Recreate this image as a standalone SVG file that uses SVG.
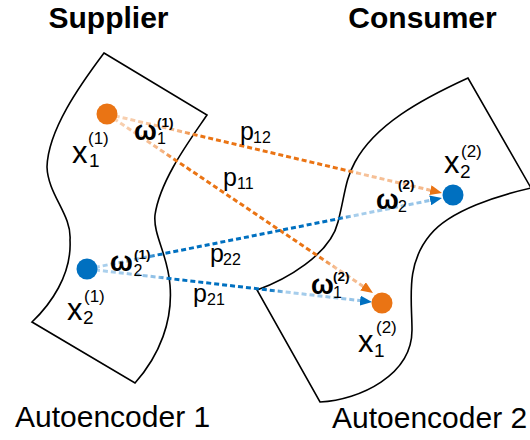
<svg xmlns="http://www.w3.org/2000/svg" width="530" height="440" viewBox="0 0 530 440">
<style>
text{font-family:"Liberation Sans",Arial,sans-serif;fill:#000}
.title{font-size:30px;font-weight:bold;text-anchor:middle}
.cap{font-size:30px}
.x{font-size:31px}
.xs{font-size:19px}
.xp{font-size:17px}
.w{font-size:27px;font-weight:bold}
.ws{font-size:16px}
.wp{font-size:13.5px;font-weight:bold}
.p{font-size:25px}
.ps{font-size:16px}
.space{fill:none;stroke:#000;stroke-width:1.6;stroke-linejoin:miter}
.conn{fill:none;stroke-width:3;stroke-dasharray:5 3}
.or{fill:#EA7414}
.bl{fill:#0070C0}
</style>
<defs>
<marker id="ahO" markerUnits="userSpaceOnUse" markerWidth="12" markerHeight="10" refX="2" refY="5" orient="auto"><path d="M0,0 L12,5 L0,10 Z" fill="#EA7414"/></marker>
<marker id="ahB" markerUnits="userSpaceOnUse" markerWidth="12" markerHeight="10" refX="2" refY="5" orient="auto"><path d="M0,0 L12,5 L0,10 Z" fill="#0070C0"/></marker>
<linearGradient id="gP12" gradientUnits="userSpaceOnUse" x1="107" y1="114" x2="442" y2="193">
<stop offset="0" stop-color="#F9D8BD"/><stop offset="0.22" stop-color="#F4B585"/><stop offset="0.27" stop-color="#EA7414"/><stop offset="0.72" stop-color="#EA7414"/><stop offset="0.75" stop-color="#F6C29A"/><stop offset="1" stop-color="#F4B585"/>
</linearGradient>
<linearGradient id="gP11" gradientUnits="userSpaceOnUse" x1="107" y1="114" x2="373" y2="293">
<stop offset="0" stop-color="#F9D8BD"/><stop offset="0.21" stop-color="#F4B585"/><stop offset="0.26" stop-color="#EA7414"/><stop offset="0.8" stop-color="#EA7414"/><stop offset="0.86" stop-color="#F6C29A"/><stop offset="1" stop-color="#F4B585"/>
</linearGradient>
<linearGradient id="gP22" gradientUnits="userSpaceOnUse" x1="87" y1="269" x2="442" y2="198">
<stop offset="0" stop-color="#B5D6EF"/><stop offset="0.16" stop-color="#8FC0E6"/><stop offset="0.2" stop-color="#0070C0"/><stop offset="0.71" stop-color="#0070C0"/><stop offset="0.75" stop-color="#A9CFEC"/><stop offset="1" stop-color="#8FC0E6"/>
</linearGradient>
<linearGradient id="gP21" gradientUnits="userSpaceOnUse" x1="87" y1="269" x2="372" y2="302">
<stop offset="0" stop-color="#B5D6EF"/><stop offset="0.25" stop-color="#8FC0E6"/><stop offset="0.29" stop-color="#0070C0"/><stop offset="0.64" stop-color="#0070C0"/><stop offset="0.7" stop-color="#A9CFEC"/><stop offset="1" stop-color="#8FC0E6"/>
</linearGradient>
</defs>

<rect width="530" height="440" fill="#fff"/>

<g id="supplier">
<path class="space" d="M104,53 L207,115 C190,140 160,180 155,215 C153,235 168,255 170,285 C173,320 160,355 135,383 L32,322 C50,305 72,275 70,240 C72,215 48,195 47,167 C48,130 80,85 104,53 Z"/>
<text class="title" x="108.5" y="28">Supplier</text>
<text class="cap" x="15" y="427">Autoencoder 1</text>
</g>

<g id="consumer">
<path class="space" d="M257,290 C285,280 330,255 338,222 C345,195 345,180 355,162 C375,125 420,100 468,78 L531,188 C500,195 450,210 430,235 C405,265 412,300 412,330 C412,375 360,400 320,402 Z"/>
<text class="title" x="422.5" y="28">Consumer</text>
<text class="cap" x="332" y="428">Autoencoder 2</text>
</g>

<g id="connectors">
<line class="conn" x1="107" y1="114" x2="432.3" y2="190.7" stroke="url(#gP12)" marker-end="url(#ahO)"/>
<line class="conn" x1="107" y1="114" x2="364.7" y2="287.4" stroke="url(#gP11)" marker-end="url(#ahO)"/>
<line class="conn" x1="87" y1="269" x2="432.2" y2="200" stroke="url(#gP22)" marker-end="url(#ahB)"/>
<line class="conn" x1="87" y1="269" x2="362.1" y2="300.85" stroke="url(#gP21)" marker-end="url(#ahB)"/>
<text class="p" x="240" y="140">p</text><text class="ps" x="253" y="143">12</text>
<text class="p" x="223" y="186">p</text><text class="ps" x="237" y="189">11</text>
<text class="p" x="210" y="262">p</text><text class="ps" x="223" y="265">22</text>
<text class="p" x="193" y="302">p</text><text class="ps" x="207" y="305">21</text>
</g>

<g id="node-x1-1">
<circle class="or" cx="107" cy="114" r="10.5"/>
<text class="x" x="72" y="163">x</text><text class="xs" x="89" y="167">1</text><text class="xp" x="88" y="144">(1)</text>
<text class="w" x="134" y="140">ω</text><text class="ws" x="157" y="144">1</text><text class="wp" x="157" y="127">(1)</text>
</g>

<g id="node-x2-1">
<circle class="bl" cx="87" cy="269" r="10.5"/>
<text class="x" x="67" y="320">x</text><text class="xs" x="83" y="324">2</text><text class="xp" x="84" y="302">(1)</text>
<text class="w" x="110" y="271">ω</text><text class="ws" x="133.5" y="276">2</text><text class="wp" x="134" y="259">(1)</text>
</g>

<g id="node-x2-2">
<circle class="bl" cx="453" cy="195" r="10.5"/>
<text class="x" x="444" y="173">x</text><text class="xs" x="460" y="178">2</text><text class="xp" x="461" y="157">(2)</text>
<text class="w" x="376" y="209">ω</text><text class="ws" x="398" y="212">2</text><text class="wp" x="398" y="189">(2)</text>
</g>

<g id="node-x1-2">
<circle class="or" cx="382" cy="303" r="10.5"/>
<text class="x" x="358" y="352">x</text><text class="xs" x="374" y="357">1</text><text class="xp" x="376" y="333">(2)</text>
<text class="w" x="311" y="294">ω</text><text class="ws" x="333" y="298">1</text><text class="wp" x="333" y="281">(2)</text>
</g>
</svg>
